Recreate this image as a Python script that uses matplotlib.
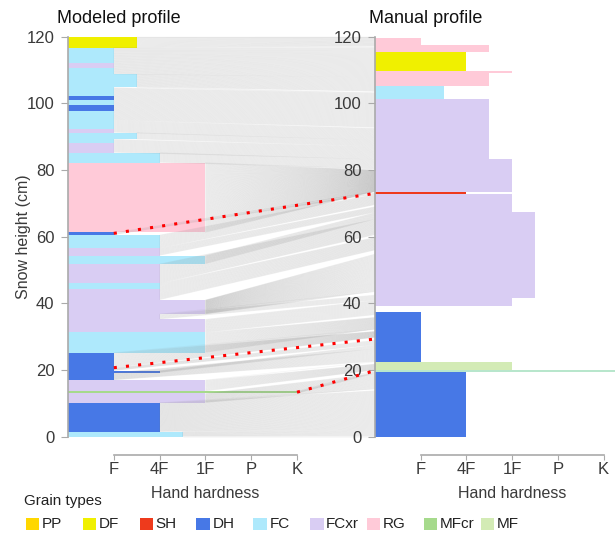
import matplotlib
matplotlib.use("Agg")
import matplotlib.pyplot as plt
import numpy as np
from matplotlib.collections import LineCollection
from matplotlib.patches import Rectangle

plt.rcParams['font.family'] = ['Liberation Sans', 'DejaVu Sans']

W, H = 615, 533

# grain types and legend colours
GRAIN_TYPES = ["PP", "DF", "SH", "DH", "FC", "FCxr", "RG", "MFcr", "MF"]
GRAIN_COLORS = ["#ffd700", "#f0f000", "#ee3a1c", "#4778e6", "#aee9fc",
                "#d9cdf3", "#ffcad8", "#a6da8c", "#d3ebb5"]
HARD_LABELS = ["F", "4F", "1F", "P", "K"]
HEIGHT_TICKS = [0, 20, 40, 60, 80, 100, 120]

# modeled profile: layer bottom / top (cm), hand hardness (F=1 .. K=5), grain type
mod_bottom = [0.0, 1.5, 10.2, 13.0, 13.7, 17.0, 19.2, 19.8, 25.2, 31.5, 35.3, 36.8,
              41.0, 44.2, 46.0, 51.8, 54.3, 56.5, 60.5, 61.3, 82.2, 85.2, 88.2, 89.2,
              91.2, 92.3, 97.8, 99.4, 101.0, 102.3, 104.8, 108.8, 110.7, 112.2, 116.7]
mod_top = [1.5, 10.2, 13.0, 13.7, 17.0, 19.2, 19.8, 25.2, 31.5, 35.3, 36.8, 41.0,
           44.2, 46.0, 51.8, 54.3, 56.5, 60.5, 61.3, 82.2, 85.2, 88.2, 89.2, 91.2,
           92.3, 97.8, 99.4, 101.0, 102.3, 104.8, 108.8, 110.7, 112.2, 116.7, 120.0]
mod_hard = [2.5, 2, 3, 5, 3, 1, 2, 1, 3, 3, 2, 3,
            2, 2, 2, 3, 2, 2, 1, 3, 2, 1, 1, 1.5,
            1, 1, 1, 1, 1, 1, 1.5, 1, 1, 1, 1.5]
mod_grain = ["FC", "DH", "FCxr", "MFcr", "FCxr", "DH", "DH", "DH", "FC", "FCxr", "FCxr", "FCxr",
             "FCxr", "FC", "FCxr", "FC", "FCxr", "FC", "DH", "RG", "FC", "FCxr", "FC", "FC",
             "FCxr", "FC", "DH", "FC", "DH", "FC", "FC", "FC", "FCxr", "FC", "DF"]

# manual profile
man_bottom = [0.0, 19.5, 19.9, 22.5, 39.3, 41.5, 67.5, 72.7, 73.3, 83.3, 101.3,
              105.3, 109.2, 109.7, 115.3, 117.5]
man_top = [19.5, 19.9, 22.5, 37.3, 41.5, 67.5, 72.7, 73.3, 83.3, 101.3, 105.3,
           109.2, 109.7, 115.3, 117.5, 119.7]
man_hard = [2, 6, 3, 1, 3, 3.5, 3, 2, 3, 2.5, 1.5,
            2.5, 3, 2, 2.5, 1]
man_grain = ["DH", "IF", "MF", "DH", "FCxr", "FCxr", "FCxr", "SH", "FCxr", "FCxr", "FC",
             "RG", "RG", "DF", "RG", "RG"]

# alignment between profiles: modeled range -> manual range (cm)
al_mod_lo = [0.0, 10.2, 13.5, 17.0, 20.7, 25.2, 31.3, 36.8, 41.1, 46.0, 56.6, 61.1, 82.2, 95.0, 105.0, 116.8]
al_mod_hi = [10.1, 13.4, 16.9, 20.6, 25.1, 31.2, 36.7, 41.0, 45.9, 56.5, 61.0, 82.1, 94.9, 104.9, 116.7, 120.0]
al_man_lo = [0.0, 14.3, 19.9, 22.5, 29.8, 32.2, 36.6, 43.5, 56.0, 60.6, 69.6, 73.5, 80.3, 92.8, 103.6, 117.1]
al_man_hi = [13.8, 19.6, 21.8, 28.9, 31.6, 35.8, 42.5, 54.8, 59.8, 69.0, 73.1, 80.0, 92.5, 103.2, 116.8, 120.0]

# highlighted matches (modeled height, modeled hardness) -> manual height
match_mod_h = [61.0, 20.7, 13.35]
match_mod_hard = [1, 1, 5]
match_man_h = [73.0, 29.3, 19.8]

color_of = dict(zip(GRAIN_TYPES, GRAIN_COLORS))
color_of["IF"] = "#b8e6cc"

fig = plt.figure(figsize=(W / 100, H / 100), dpi=100)
ax_l = fig.add_axes([68 / W, 96.3 / H, 229 / W, 400 / H])
ax_r = fig.add_axes([375 / W, 96.3 / H, 240 / W, 400 / H])
ax_r.set_zorder(2)
ax_r.patch.set_alpha(0)

SPINE = "#aaaaaa"
TXT = "#3a3a3a"


def draw_profile(ax, bottom, top, hard, grain, xmax):
    for b, t, h, g in zip(bottom, top, hard, grain):
        ax.barh(b, h, height=t - b, align="edge", color=color_of[g], linewidth=0)
    ax.set_xlim(0, xmax)
    ax.set_ylim(0, 120)
    for s in ["top", "right"]:
        ax.spines[s].set_visible(False)
    ax.spines["left"].set_color(SPINE)
    ax.spines["left"].set_linewidth(1.2)
    ax.spines["bottom"].set_color(SPINE)
    ax.spines["bottom"].set_linewidth(1.2)
    ax.spines["bottom"].set_position(("outward", 13))
    ax.spines["bottom"].set_bounds(1, 5)
    ax.set_yticks(HEIGHT_TICKS)
    ax.set_xticks(range(1, 6))
    ax.set_xticklabels(HARD_LABELS)
    ax.tick_params(axis="y", length=4.8, pad=5, color=SPINE, labelcolor=TXT, labelsize=12)
    ax.tick_params(axis="x", length=3.5, pad=2, color=SPINE, labelcolor=TXT, labelsize=12)
    ax.set_xlabel("Hand hardness", fontsize=11.5, color=TXT)
    ax.xaxis.label.set_va("baseline")
    ax.xaxis.set_label_coords(3 / xmax, -(498 - 436.7) / 400)


draw_profile(ax_l, mod_bottom, mod_top, mod_hard, mod_grain, 5)
draw_profile(ax_r, man_bottom, man_top, man_hard, man_grain, 5.25)

ax_l.set_ylabel("Snow height (cm)", fontsize=11.5, color=TXT)
ax_l.yaxis.set_label_coords(-0.16, 0.5)

fig.text(57 / W, 1 - 23 / H, "Modeled profile", fontsize=13, va="baseline", color="#111111")
fig.text(369 / W, 1 - 23 / H, "Manual profile", fontsize=13, va="baseline", color="#111111")

to_fig = fig.transFigure.inverted()


def hard_at(y):
    for b, t, h in zip(mod_bottom, mod_top, mod_hard):
        if b <= y <= t:
            return h
    return 1


def fig_pt(ax, x, y):
    return to_fig.transform(ax.transData.transform((x, y)))


# alignment lines (one per ~1 mm of the modeled profile)
segs = []
for l0, l1, r0, r1 in zip(al_mod_lo, al_mod_hi, al_man_lo, al_man_hi):
    n = int(max(l1 - l0, r1 - r0) / 0.1) + 1
    for a, b in zip(np.linspace(l0, l1, n), np.linspace(r0, r1, n)):
        segs.append([fig_pt(ax_l, hard_at(a), a), fig_pt(ax_r, 0, b)])
lc = LineCollection(segs, colors="#8a8a8a", linewidths=0.45, alpha=0.085,
                    transform=fig.transFigure, zorder=1)
fig.add_artist(lc)

red = []
for hm, hh, hr in zip(match_mod_h, match_mod_hard, match_man_h):
    red.append([fig_pt(ax_l, hh, hm), fig_pt(ax_r, 0, hr)])
rc = LineCollection(red, colors="#ff0000", linewidths=2.2, linestyles=[(0, (1, 3.0))],
                    transform=fig.transFigure, zorder=5, capstyle="butt")
fig.add_artist(rc)

# legend
fig.text(24 / W, 1 - 505 / H, "Grain types", fontsize=11, va="baseline", color="#222222")
for i, (g, c) in enumerate(zip(GRAIN_TYPES, GRAIN_COLORS)):
    x0 = 25.7 + i * 56.9
    fig.add_artist(Rectangle((x0 / W, 1 - 530 / H), 13.3 / W, 12.3 / H, color=c,
                             transform=fig.transFigure, linewidth=0))
    fig.text((x0 + 16) / W, 1 - 524 / H, g, fontsize=11, va="center", color="#222222")

fig.savefig("out.png", dpi=100)
